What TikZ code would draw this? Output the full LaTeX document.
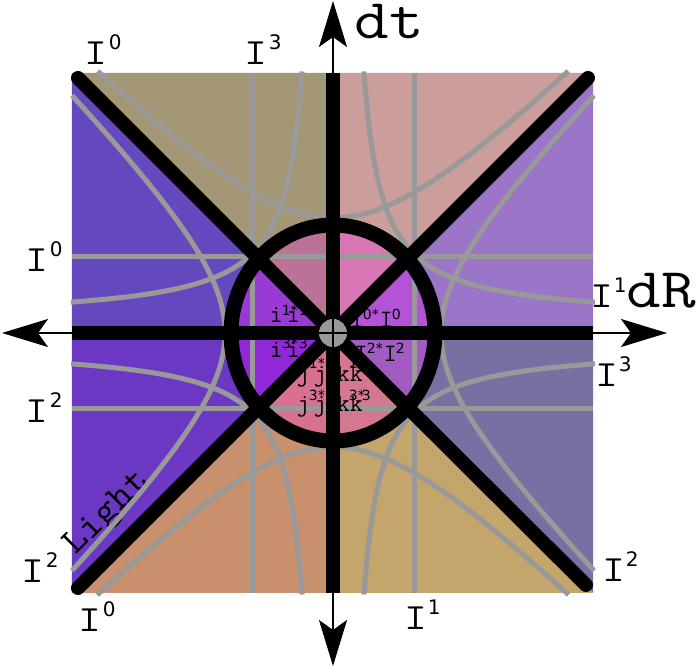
\documentclass[tikz,border=0pt]{standalone}
\usepackage{fontspec}
\usepackage{graphicx}
\newcommand\mono{\ttfamily}
\newfontfamily\dv{DejaVu Sans}
\usetikzlibrary{arrows.meta}
\definecolor{grayc}{HTML}{999999}
\definecolor{oTLc}{HTML}{A39776}
\definecolor{oTRc}{HTML}{CB9E9B}
\definecolor{oRUc}{HTML}{9B75C8}
\definecolor{oRLc}{HTML}{7670A3}
\definecolor{oBRc}{HTML}{C4A56B}
\definecolor{oBLc}{HTML}{C8906C}
\definecolor{oLLc}{HTML}{6B38C4}
\definecolor{oLUc}{HTML}{6648BE}
\definecolor{iTLc}{HTML}{BC7298}
\definecolor{iTRc}{HTML}{D977B5}
\definecolor{iRUc}{HTML}{B452D8}
\definecolor{iRLc}{HTML}{A25BC3}
\definecolor{iBRc}{HTML}{D47890}
\definecolor{iBLc}{HTML}{D7718F}
\definecolor{iLLc}{HTML}{9128D8}
\definecolor{iLUc}{HTML}{9A3AD4}
\newcommand\olab[2]{\scalebox{1.2}[1]{\fontsize{37}{37}\selectfont\mono #1}\kern1pt\raisebox{15pt}{\fontsize{20}{20}\selectfont\dv #2}}
\newcommand\bigtxt[1]{\scalebox{1.2}[1]{\fontsize{56}{56}\selectfont\mono #1}}
\newcommand\grp[4]{\makebox[#3][l]{{\fontsize{25}{25}\selectfont\mono #1}\kern-1pt\raisebox{#4}{\fontsize{14}{14}\selectfont\dv #2}}}
\begin{document}
\begin{tikzpicture}[x=1pt,y=1pt,
  grayln/.style={draw=grayc,line width=5pt},
  blk/.style={draw=black,line width=14pt},
  axisln/.style={draw=black,line width=2pt,{Stealth[length=46pt,width=28pt,inset=10pt]}-{Stealth[length=46pt,width=28pt,inset=10pt]}},
  lab/.style={anchor=base west,inner sep=0pt,outer sep=0pt},
  ilab/.style={anchor=base west,inner sep=0pt,outer sep=0pt}]
\useasboundingbox (-333,-335) rectangle (366,333);
\coordinate (O) at (0,0);
\coordinate (TL) at (-261,260);
\coordinate (TR) at (260,260);
\coordinate (BR) at (260,-260);
\coordinate (BL) at (-261,-260);
\coordinate (T) at (0,260);
\coordinate (R) at (260,0);
\coordinate (B) at (0,-260);
\coordinate (L) at (-261,0);
% outer regions
\fill[oTLc] (O) -- (TL) -- (T) -- cycle;
\fill[oTRc] (O) -- (T) -- (TR) -- cycle;
\fill[oRUc] (O) -- (TR) -- (R) -- cycle;
\fill[oRLc] (O) -- (R) -- (BR) -- cycle;
\fill[oBRc] (O) -- (BR) -- (B) -- cycle;
\fill[oBLc] (O) -- (B) -- (BL) -- cycle;
\fill[oLLc] (O) -- (BL) -- (L) -- cycle;
\fill[oLUc] (O) -- (L) -- (TL) -- cycle;
% inner regions
\begin{scope}
\clip (O) ellipse [x radius=102pt, y radius=108pt];
\fill[iTLc] (O) -- (TL) -- (T) -- cycle;
\fill[iTRc] (O) -- (T) -- (TR) -- cycle;
\fill[iRUc] (O) -- (TR) -- (R) -- cycle;
\fill[iRLc] (O) -- (R) -- (BR) -- cycle;
\fill[iBRc] (O) -- (BR) -- (B) -- cycle;
\fill[iBLc] (O) -- (B) -- (BL) -- cycle;
\fill[iLLc] (O) -- (BL) -- (L) -- cycle;
\fill[iLUc] (O) -- (L) -- (TL) -- cycle;
\end{scope}
% Light
\node[lab,rotate=45] (light) at (-257,-223) {\scalebox{1.1}[1]{\fontsize{37}{37}\selectfont\mono Light}};
% gray grid
\coordinate (gv1a) at (-80,260); \coordinate (gv1b) at (-80,-260);
\coordinate (gv2a) at (81,260); \coordinate (gv2b) at (81,-260);
\coordinate (gh1a) at (-261,76); \coordinate (gh1b) at (260,76);
\coordinate (gh2a) at (-261,-76); \coordinate (gh2b) at (260,-76);
\draw[grayln] (gv1a) -- (gv1b);
\draw[grayln] (gv2a) -- (gv2b);
\draw[grayln] (gh1a) -- (gh1b);
\draw[grayln] (gh2a) -- (gh2b);
% hyperbolas
\draw[grayln] plot[domain=-1.464:1.464,samples=50,smooth] ({115*sinh(\x)},{115*cosh(\x)});
\draw[grayln] plot[domain=-1.474:1.474,samples=50,smooth] ({114*sinh(\x)},{-114*cosh(\x)});
\draw[grayln] plot[domain=-1.53:1.53,samples=50,smooth] ({108*cosh(\x)},{108*sinh(\x)});
\draw[grayln] plot[domain=-1.53:1.53,samples=50,smooth] ({-108*cosh(\x)},{108*sinh(\x)});
% quadrant curves
\foreach \sx/\sy in {1/1,-1/1,1/-1,-1/-1}{
  \draw[grayln] plot[domain=18.2:249.3,samples=70,smooth] ({\sx*(12.7+\x)},{\sy*(12.7+4529/\x)});
}
% inner labels
\node[ilab] (l1) at (-63,10) {\grp{i}{1*}{17pt}{7pt}\grp{i}{1}{17pt}{7pt}};
\node[ilab] (r1) at (18,5) {\grp{I}{0*}{29pt}{8pt}\grp{I}{0}{20pt}{8pt}};
\node[ilab] (l2) at (-63,-25) {\grp{i}{3*}{17pt}{9pt}\grp{i}{3}{17pt}{9pt}};
\node[ilab] (r2) at (22,-29) {\grp{I}{2*}{29pt}{8pt}\grp{I}{2}{20pt}{8pt}};
\node[ilab] (b1) at (-36,-49) {\grp{j}{1*}{17pt}{13pt}\grp{j}{1}{23pt}{13pt}\grp{k}{1*}{13pt}{13pt}\grp{k}{1}{17pt}{13pt}};
\node[ilab] (b2) at (-36,-79) {\grp{j}{3*}{17pt}{11pt}\grp{j}{3}{23pt}{11pt}\grp{k}{3*}{13pt}{11pt}\grp{k}{3}{17pt}{11pt}};
% black lines
\draw[blk] (T) -- (B);
\draw[blk] (L) -- (R);
\coordinate (dTL) at (-255,255);
\coordinate (dTR) at (255,255);
\coordinate (dBL) at (-255,-255);
\coordinate (dBR) at (253,-252);
\draw[blk,line cap=round] (dTL) -- (O);
\draw[blk,line cap=round] (dTR) -- (O);
\draw[blk,line cap=round] (dBL) -- (O);
\draw[blk,line cap=round] (dBR) -- (O);
\draw[draw=black,line width=15pt] (O) ellipse [x radius=102pt, y radius=108pt];
\fill[grayc] (O) circle (14pt);
% axes
\coordinate (axT) at (0,332);
\coordinate (axB) at (0,-333);
\coordinate (axL) at (-331,0);
\coordinate (axR) at (334,0);
\draw[axisln] (axB) -- (axT);
\draw[axisln] (axL) -- (axR);
% outer labels
\node[lab] (la) at (-248,268) {\olab{I}{0}};
\node[lab] (lb) at (-88,268) {\olab{I}{3}};
\node[lab] (ldt) at (22,294) {\bigtxt{dt}};
\node[lab] (lc) at (-307,61) {\olab{I}{0}};
\node[lab] (ld) at (-307,-90) {\olab{I}{2}};
\node[lab] (le) at (257,25) {\olab{I}{1}\bigtxt{dR}};
\node[lab] (lf) at (262,-54) {\olab{I}{3}};
\node[lab] (lg) at (-311,-250) {\olab{I}{2}};
\node[lab] (lh) at (-254,-299) {\olab{I}{0}};
\node[lab] (li) at (71,-297) {\olab{I}{1}};
\node[lab] (lj) at (269,-249) {\olab{I}{2}};
\end{tikzpicture}
\end{document}
